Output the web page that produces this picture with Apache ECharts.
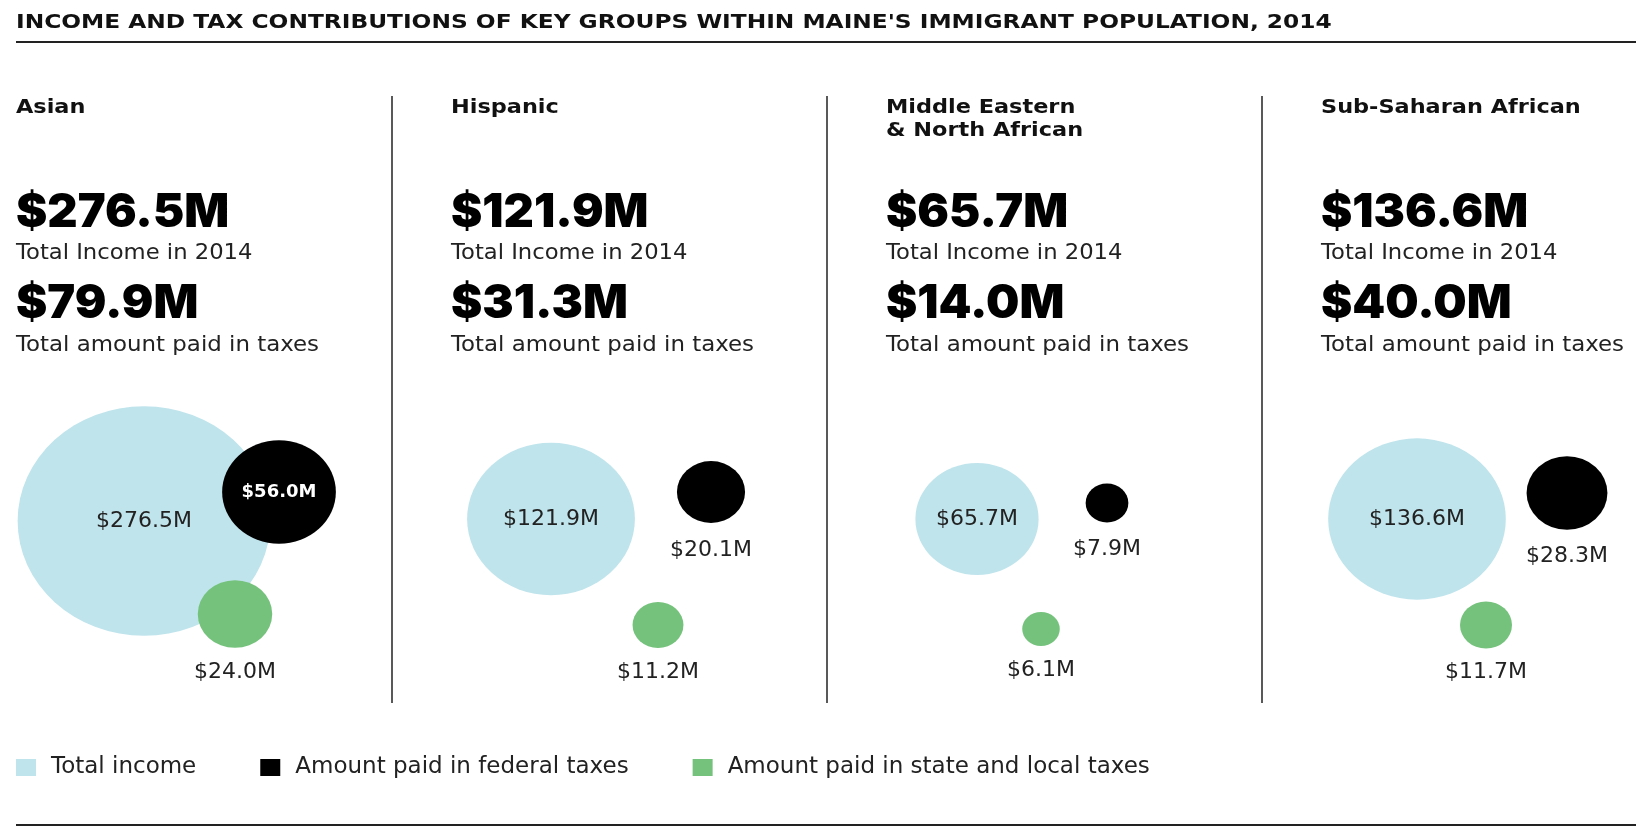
<!DOCTYPE html>
<html lang="en">
<head>
    <meta charset="UTF-8">
    <title>Income and tax contributions</title>
    <style>
        * {
            margin: 0;
            padding: 0;
        }

        html, body {
            height: 100%;
            background: #fff;
        }

        #chart {
            width: 1652px;
            height: 833px;
        }
    </style>
    <script src="https://cdn.jsdelivr.net/npm/echarts@6/dist/echarts.min.js"></script>
</head>
<body>
<div id="chart"></div>

<script>
    // data ($ millions)
    const groups = ['Asian', 'Hispanic', 'Middle Eastern\n& North African', 'Sub-Saharan African']
    const totalIncome = [276.5, 121.9, 65.7, 136.6]
    const totalTaxes = [79.9, 31.3, 14.0, 40.0]
    const federalTaxes = [56.0, 20.1, 7.9, 28.3]
    const stateLocalTaxes = [24.0, 11.2, 6.1, 11.7]
    const seriesNames = ['Total income', 'Amount paid in federal taxes', 'Amount paid in state and local taxes']

    // layout: bubble centres inside each panel (px from panel top-left)
    const panelLeft = 16
    const panelWidth = 435
    const panelTop = 380
    const slots = [
        {income: [128, 141], federal: [263, 112], state: [219, 234]},
        {income: [100, 139], federal: [260, 112], state: [207, 245]},
        {income: [91, 139], federal: [221, 123], state: [155, 249]},
        {income: [96, 139], federal: [246, 113], state: [165, 245]}
    ]
    const colors = ['#bfe4ec', '#000000', '#74c27b']

    const bodyFont = '"DejaVu Sans", sans-serif'
    const bigFont = 'Inter, "DejaVu Sans", sans-serif'
    const fmt = v => '$' + v.toFixed(1) + 'M'
    // bubble area follows value (picture is a little stretched horizontally)
    const sizeOf = v => [15.2 * Math.sqrt(v), 13.8 * Math.sqrt(v)]

    function points(values, key) {
        return values.map((v, i) => [i * panelWidth + slots[i][key][0], slots[i][key][1], v])
    }

    let chart = echarts.init(document.getElementById('chart'))

    let graphics = []
    // title + rules
    graphics.push({
        type: 'text', x: 16, y: 23, scaleX: 1.165,
        style: {text: "INCOME AND TAX CONTRIBUTIONS OF KEY GROUPS WITHIN MAINE'S IMMIGRANT POPULATION, 2014",
            font: 'bold 20px ' + bodyFont, fill: '#111', verticalAlign: 'middle'}
    })
    graphics.push({type: 'line', shape: {x1: 16, y1: 42, x2: 1636, y2: 42}, style: {stroke: '#222', lineWidth: 2}})
    graphics.push({type: 'line', shape: {x1: 16, y1: 825, x2: 1636, y2: 825}, style: {stroke: '#222', lineWidth: 2}})

    groups.forEach((g, i) => {
        let x = panelLeft + i * panelWidth
        if (i > 0) {
            graphics.push({type: 'line', shape: {x1: x - 59, y1: 96, x2: x - 59, y2: 703}, style: {stroke: '#222', lineWidth: 1.5}})
        }
        graphics.push({type: 'text', x: x, y: 96, scaleX: 1.12, style: {text: g, font: 'bold 20px ' + bodyFont,
                fill: '#111', verticalAlign: 'top', lineHeight: 23}})
        graphics.push({type: 'text', x: x, y: 213, style: {text: fmt(totalIncome[i]), font: '900 47px ' + bigFont,
                fill: '#000', verticalAlign: 'middle'}})
        graphics.push({type: 'text', x: x, y: 254, scaleX: 1.08, style: {text: 'Total Income in 2014', font: '21px ' + bodyFont,
                fill: '#222', verticalAlign: 'middle'}})
        graphics.push({type: 'text', x: x, y: 304, style: {text: fmt(totalTaxes[i]), font: '900 47px ' + bigFont,
                fill: '#000', verticalAlign: 'middle'}})
        graphics.push({type: 'text', x: x, y: 346, scaleX: 1.09, style: {text: 'Total amount paid in taxes', font: '21px ' + bodyFont,
                fill: '#222', verticalAlign: 'middle'}})
    })

    const labelBase = {fontFamily: bodyFont, fontSize: 22, color: '#222', formatter: p => fmt(p.value[2])}

    let option = {
        animation: false,
        color: colors,
        legend: {
            left: 11,
            top: 751,
            icon: 'rect',
            itemWidth: 20,
            itemHeight: 17,
            itemGap: 64,
            data: seriesNames,
            textStyle: {fontFamily: bodyFont, fontSize: 23, color: '#222', padding: [0, 0, 0, 10]}
        },
        grid: {left: panelLeft, top: panelTop, width: 1636, height: 300},
        xAxis: {type: 'value', min: 0, max: 1636, show: false},
        yAxis: {type: 'value', min: 0, max: 300, inverse: true, show: false},
        graphic: graphics,
        series: [
            {
                name: seriesNames[0], type: 'scatter', z: 1,
                data: points(totalIncome, 'income'),
                symbolSize: v => sizeOf(v[2]),
                itemStyle: {opacity: 1},
                label: Object.assign({show: true, position: 'inside'}, labelBase)
            },
            {
                name: seriesNames[1], type: 'scatter', z: 3,
                data: points(federalTaxes, 'federal').map(p => {
                    // big enough bubbles carry their label inside
                    let inside = sizeOf(p[2])[0] > 100
                    return {
                        value: p,
                        label: inside ? {position: 'inside', color: '#fff', fontWeight: 'bold', fontSize: 18}
                            : {position: 'bottom', distance: 16}
                    }
                }),
                symbolSize: v => sizeOf(v[2]),
                itemStyle: {opacity: 1},
                label: Object.assign({show: true}, labelBase)
            },
            {
                name: seriesNames[2], type: 'scatter', z: 2,
                data: points(stateLocalTaxes, 'state'),
                symbolSize: v => sizeOf(v[2]),
                itemStyle: {opacity: 1},
                label: Object.assign({show: true, position: 'bottom', distance: 13}, labelBase)
            }
        ]
    }
    chart.setOption(option, true)
</script>
</body>
</html>
